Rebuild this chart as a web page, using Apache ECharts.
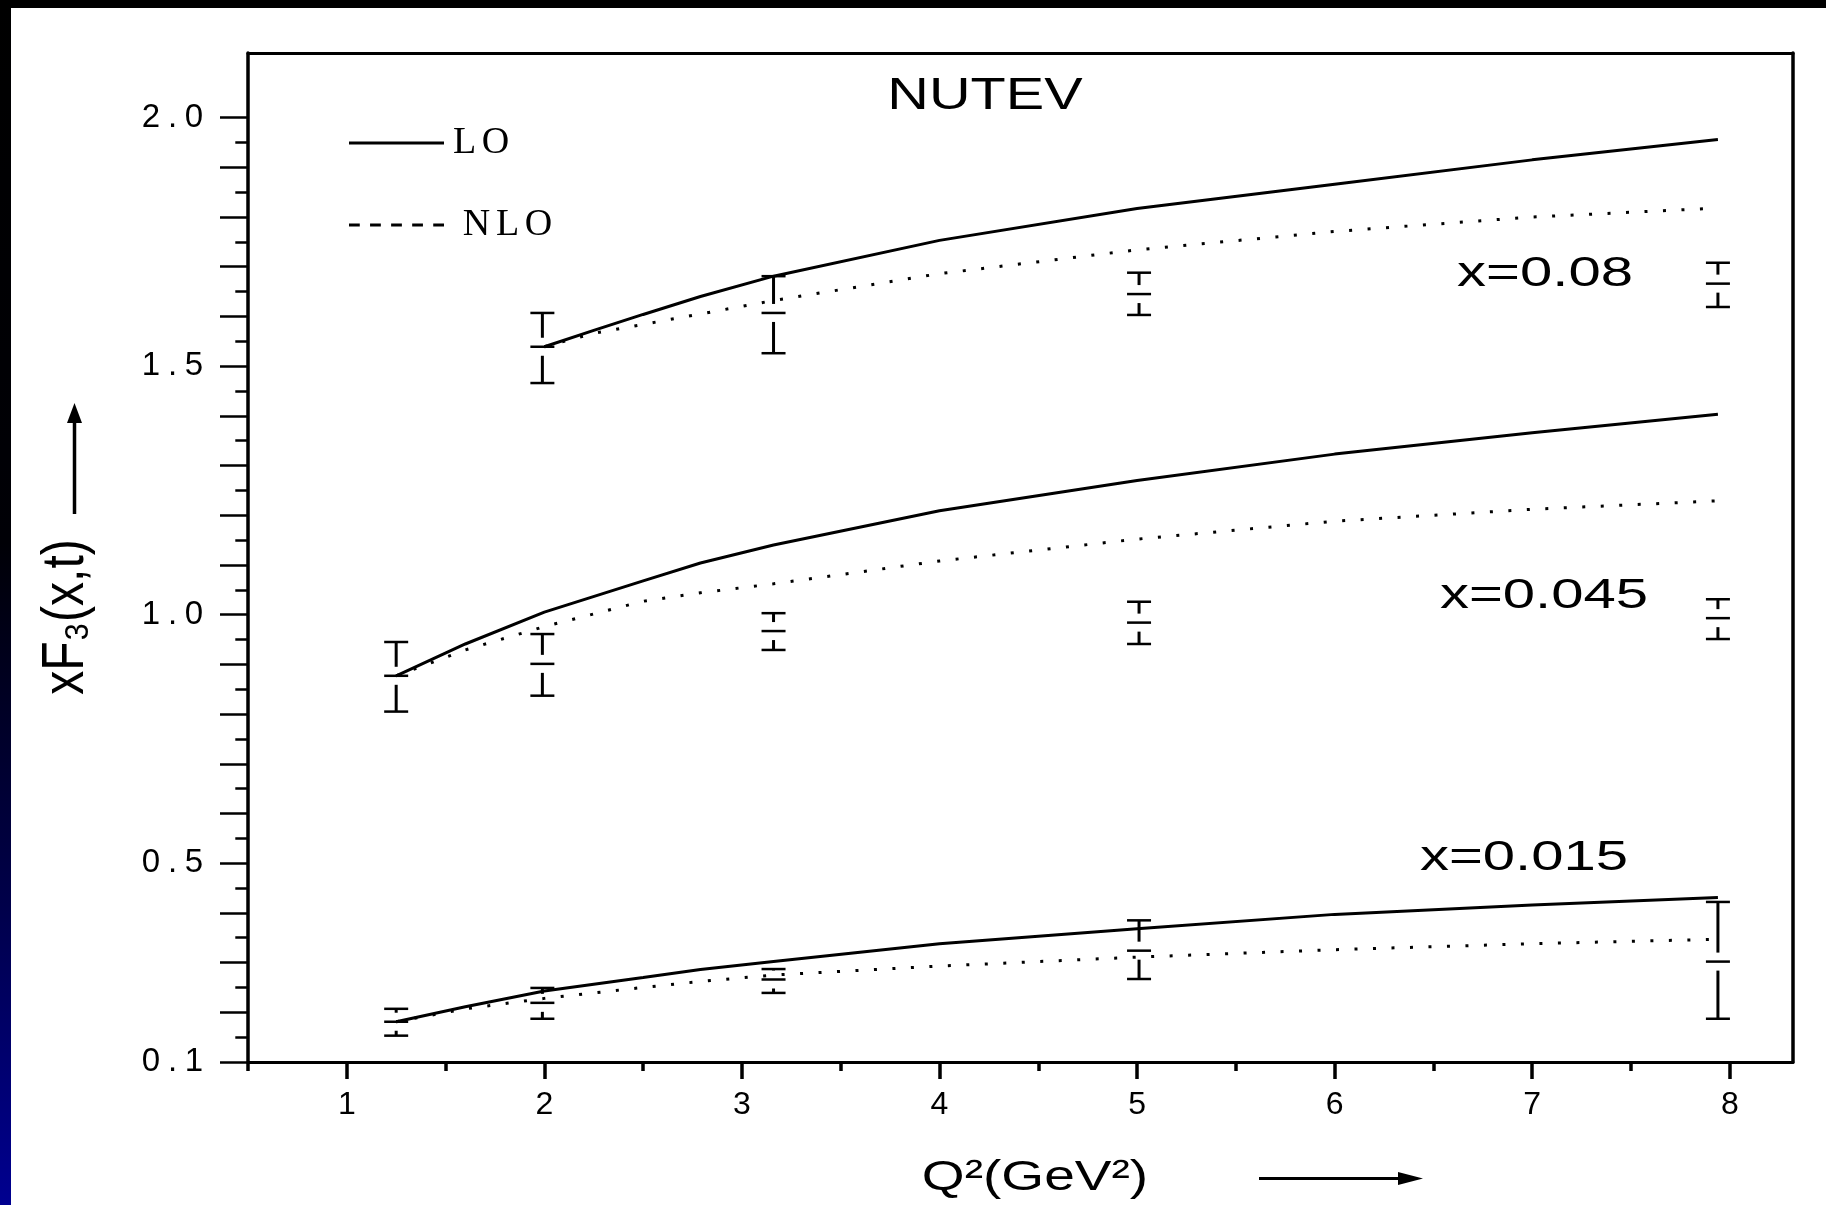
<!DOCTYPE html>
<html>
<head>
<meta charset="utf-8">
<title>NUTEV xF3</title>
<script src="https://cdn.jsdelivr.net/npm/echarts@6.0.0/dist/echarts.min.js"></script>
<style>
html, body { margin: 0; padding: 0; background: #fff; }
#main { width: 1826px; height: 1205px; }
</style>
</head>
<body>
<div id="main"></div>
<script>
var FONT = 'Liberation Sans'

// axis ticks and labels
var xTicks = [1, 2, 3, 4, 5, 6, 7, 8]
var xMinorTicks = [0.5, 1.5, 2.5, 3.5, 4.5, 5.5, 6.5, 7.5]
var yTicks = [0.1, 0.2, 0.3, 0.4, 0.5, 0.6, 0.7, 0.8, 0.9, 1.0, 1.1, 1.2, 1.3, 1.4, 1.5, 1.6, 1.7, 1.8, 1.9, 2.0]
var yMinorTicks = [0.15, 0.25, 0.35, 0.45, 0.55, 0.65, 0.75, 0.85, 0.95, 1.05, 1.15, 1.25, 1.35, 1.45, 1.55, 1.65, 1.75, 1.85, 1.95]
var yLabels = [0.1, 0.5, 1.0, 1.5, 2.0]

// theory curves, x=0.08
var qUp = [2.0, 2.25, 2.5, 2.79, 3.16, 4, 5, 6, 7, 7.94]
var loUp = [1.539, 1.572, 1.604, 1.640, 1.681, 1.753, 1.817, 1.866, 1.915, 1.956]
var nloUp = [1.539, 1.566, 1.584, 1.605, 1.632, 1.686, 1.734, 1.771, 1.800, 1.818]

// theory curves, x=0.045 and x=0.015
var qMid = [1.25, 1.6, 2.0, 2.5, 2.79, 3.16, 4, 5, 6, 7, 7.94]
var loMid = [0.877, 0.941, 1.005, 1.068, 1.104, 1.140, 1.209, 1.270, 1.323, 1.366, 1.403]
var nloMid = [0.877, 0.929, 0.976, 1.027, 1.044, 1.062, 1.108, 1.152, 1.188, 1.212, 1.229]
var loLow = [0.181, 0.211, 0.243, 0.270, 0.286, 0.302, 0.338, 0.368, 0.397, 0.416, 0.431]
var nloLow = [0.181, 0.207, 0.228, 0.250, 0.262, 0.275, 0.293, 0.311, 0.326, 0.338, 0.347]

// NUTEV data points with error bars
var qDataUp = [1.99, 3.16, 5.01, 7.94]
var valUp = [1.539, 1.607, 1.645, 1.666]
var lowUp = [1.466, 1.526, 1.603, 1.619]
var highUp = [1.607, 1.681, 1.688, 1.708]

var qData = [1.25, 1.99, 3.16, 5.01, 7.94]
var valMid = [0.877, 0.901, 0.967, 0.984, 0.993]
var lowMid = [0.805, 0.837, 0.929, 0.941, 0.951]
var highMid = [0.945, 0.961, 1.003, 1.026, 1.031]
var valLow = [0.181, 0.219, 0.266, 0.324, 0.302]
var lowLow = [0.153, 0.187, 0.239, 0.267, 0.187]
var highLow = [0.207, 0.249, 0.287, 0.385, 0.422]

function pairs(xs, ys) {
	return xs.map(function (x, i) { return [x, ys[i]] })
}
function bars(xs, v, lo, hi) {
	return xs.map(function (x, i) { return [x, v[i], lo[i], hi[i]] })
}
// one rich fragment per char, so the labels get the wide spacing of the original
function spread(s, wide, narrow) {
	return s.split('').map(function (c) {
		return '{' + (c == '.' || c == ',' ? narrow : wide) + '|' + c + '}'
	}).join('')
}

function renderBar(params, api) {
	var q = api.value(0)
	var top = api.coord([q, api.value(3)])
	var mid = api.coord([q, api.value(1)])
	var bot = api.coord([q, api.value(2)])
	var x = mid[0], hw = 12, gap = 9
	function st(w) { return { stroke: '#000', lineWidth: w } }
	var kids = [
		{ type: 'line', shape: { x1: x - hw, y1: top[1], x2: x + hw, y2: top[1] }, style: st(2.5) },
		{ type: 'line', shape: { x1: x - hw, y1: mid[1], x2: x + hw, y2: mid[1] }, style: st(2.5) },
		{ type: 'line', shape: { x1: x - hw, y1: bot[1], x2: x + hw, y2: bot[1] }, style: st(2.5) }
	]
	if (mid[1] - gap > top[1]) {
		kids.push({ type: 'line', shape: { x1: x, y1: top[1], x2: x, y2: mid[1] - gap }, style: st(3) })
	}
	if (bot[1] > mid[1] + gap) {
		kids.push({ type: 'line', shape: { x1: x, y1: mid[1] + gap, x2: x, y2: bot[1] }, style: st(3) })
	}
	return { type: 'group', children: kids }
}

function loLine(data) {
	return {
		name: 'LO', type: 'line', data: data, symbol: 'none', z: 2,
		itemStyle: { color: '#000' },
		lineStyle: { color: '#000', width: 3, type: 'solid' }
	}
}
function nloLine(data) {
	return {
		name: 'NLO', type: 'line', data: data, symbol: 'none', z: 2,
		itemStyle: { color: '#000' },
		lineStyle: { color: '#000', width: 3, type: [3, 15.5], cap: 'butt' }
	}
}
function errBars(data) {
	return {
		name: 'NUTEV', type: 'custom', data: data, renderItem: renderBar, z: 3,
		itemStyle: { color: '#000' },
		encode: { x: 0, y: 1 }
	}
}

var chart = echarts.init(document.getElementById('main'))

var txt = { fontFamily: FONT, fill: '#000', align: 'center', verticalAlign: 'middle' }
function label(x, y, s, size, sx) {
	return { type: 'text', x: x, y: y, scaleX: sx, z: 20,
		style: Object.assign({ text: s, fontSize: size }, txt) }
}

// legend keys: a solid bar for LO, five short dashes for NLO
var iconLO = 'path://M0,0h92v3h-92z'
var iconNLO = 'path://M0,0h11v3h-11z M21.5,0h11v3h-11z M43,0h11v3h-11z M64.5,0h11v3h-11z M86,0h11v3h-11z'

var option = {
	backgroundColor: '#fff',
	color: ['#000'],
	animation: false,
	grid: { left: 248, right: 33, top: 53, bottom: 143, containLabel: false },
	legend: {
		orient: 'vertical', left: 349, top: 124, padding: 0,
		itemGap: 44, itemWidth: 95, itemHeight: 14, symbolKeepAspect: true,
		data: [
			{ name: 'LO', icon: iconLO },
			{ name: 'NLO', icon: iconNLO, textStyle: { padding: [0, 0, 0, 12] } }
		],
		formatter: function (n) { return spread(n, 'c', 'c') },
		textStyle: {
			color: '#000', fontFamily: 'Liberation Serif', fontSize: 38,
			rich: { c: { fontFamily: 'Liberation Serif', fontSize: 38, color: '#000', width: 31, align: 'center', lineHeight: 42 } }
		}
	},
	xAxis: [{
		type: 'value', min: 0.5, max: 8.32, position: 'bottom',
		axisLine: { show: true, lineStyle: { color: '#000', width: 3 } },
		axisTick: { show: true, customValues: xTicks, length: 17, lineStyle: { color: '#000', width: 3.5 } },
		axisLabel: { show: true, customValues: xTicks, margin: 27, color: '#000', fontFamily: FONT, fontSize: 32 },
		splitLine: { show: false }
	}, {
		type: 'value', min: 0.5, max: 8.32, position: 'bottom',
		axisLine: { show: false },
		axisTick: { show: true, customValues: xMinorTicks, length: 9, lineStyle: { color: '#000', width: 3.5 } },
		axisLabel: { show: false },
		splitLine: { show: false }
	}, {
		type: 'value', min: 0.5, max: 8.32, position: 'top',
		axisLine: { show: true, lineStyle: { color: '#000', width: 3 } },
		axisTick: { show: false }, axisLabel: { show: false }, splitLine: { show: false }
	}],
	yAxis: [{
		type: 'value', min: 0.1, max: 2.13, position: 'left',
		axisLine: { show: true, lineStyle: { color: '#000', width: 3.5 } },
		axisTick: { show: true, customValues: yTicks, length: 28, lineStyle: { color: '#000', width: 2.5 } },
		axisLabel: {
			show: true, customValues: yLabels, margin: 42,
			formatter: function (v) { return spread(v.toFixed(1), 'd', 'p') },
			rich: {
				d: { fontFamily: FONT, fontSize: 33, color: '#000', width: 24, align: 'center' },
				p: { fontFamily: FONT, fontSize: 33, color: '#000', width: 19, align: 'center' }
			}
		},
		splitLine: { show: false }
	}, {
		type: 'value', min: 0.1, max: 2.13, position: 'left',
		axisLine: { show: false },
		axisTick: { show: true, customValues: yMinorTicks, length: 12.7, lineStyle: { color: '#000', width: 2.5 } },
		axisLabel: { show: false },
		splitLine: { show: false }
	}, {
		type: 'value', min: 0.1, max: 2.13, position: 'right',
		axisLine: { show: true, lineStyle: { color: '#000', width: 3.5 } },
		axisTick: { show: false }, axisLabel: { show: false }, splitLine: { show: false }
	}],
	series: [
		loLine(pairs(qUp, loUp)),
		nloLine(pairs(qUp, nloUp)),
		loLine(pairs(qMid, loMid)),
		nloLine(pairs(qMid, nloMid)),
		loLine(pairs(qMid, loLow)),
		nloLine(pairs(qMid, nloLow)),
		errBars(bars(qDataUp, valUp, lowUp, highUp)),
		errBars(bars(qData, valMid, lowMid, highMid)),
		errBars(bars(qData, valLow, lowLow, highLow))
	],
	graphic: [
		// slide border: black strip on top, black-to-blue strip on the left
		{ type: 'rect', shape: { x: 0, y: 0, width: 1826, height: 8 }, style: { fill: '#000' }, z: 20 },
		{ type: 'rect', shape: { x: 0, y: 0, width: 11, height: 1205 }, z: 20,
			style: { fill: new echarts.graphic.LinearGradient(0, 0, 0, 1, [
				{ offset: 0, color: '#000000' },
				{ offset: 0.45, color: '#000006' },
				{ offset: 0.75, color: '#00004a' },
				{ offset: 1, color: '#000090' }
			]) } },
		label(985, 97, 'NUTEV', 44, 1.31),
		label(1545, 274, 'x=0.08', 43, 1.35),
		label(1544, 596, 'x=0.045', 43, 1.35),
		label(1524, 858, 'x=0.015', 43, 1.35),
		label(1035, 1178, 'Q²(GeV²)', 43, 1.28),
		{ type: 'text', x: 67, y: 617, rotation: Math.PI / 2, scaleY: 1.22, z: 20,
			style: Object.assign({ text: 'xF₃(x,t)', fontSize: 48 }, txt) },
		// arrows next to the axis titles
		{ type: 'line', shape: { x1: 74.5, y1: 514, x2: 74.5, y2: 418 }, style: { stroke: '#000', lineWidth: 3.5 }, z: 20 },
		{ type: 'polygon', shape: { points: [[67, 423], [82, 423], [74.5, 403]] }, style: { fill: '#000' }, z: 20 },
		{ type: 'line', shape: { x1: 1259, y1: 1178.5, x2: 1405, y2: 1178.5 }, style: { stroke: '#000', lineWidth: 3 }, z: 20 },
		{ type: 'polygon', shape: { points: [[1398, 1172], [1398, 1185], [1423, 1178.5]] }, style: { fill: '#000' }, z: 20 }
	]
}

chart.setOption(option)
</script>
</body>
</html>
